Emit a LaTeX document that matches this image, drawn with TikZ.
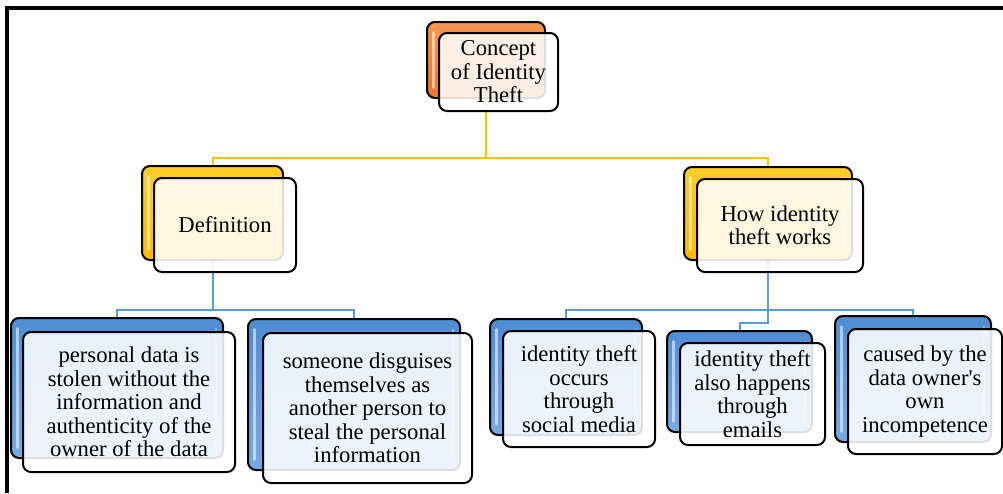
\documentclass[tikz,border=0pt]{standalone}
\usepackage{fontspec}
\setmainfont{Liberation Serif}[Ligatures=TeXOff]
\definecolor{orgT}{RGB}{246,150,80}
\definecolor{orgB}{RGB}{232,118,42}
\definecolor{ylwT}{RGB}{255,205,40}
\definecolor{ylwB}{RGB}{252,186,0}
\definecolor{bluT}{RGB}{80,140,210}
\definecolor{bluB}{RGB}{120,170,225}
\definecolor{ylink}{RGB}{255,192,0}
\definecolor{blink}{RGB}{91,155,213}
\begin{document}
\begin{tikzpicture}[x=0.75pt,y=-0.75pt,
  sz/.style 2 args={minimum width=#1*0.75pt, minimum height=#2*0.75pt},
  backbox/.style={draw=black, line width=1.5pt, rounded corners=6pt, inner sep=0pt,
    path picture={\draw[white, opacity=0.55, line width=2.2pt, line cap=round]
      ([xshift=5pt,yshift=-8pt]path picture bounding box.north west) --
      ([xshift=5pt,yshift=8pt]path picture bounding box.south west);
      \draw[white, opacity=0.35, line width=1.5pt, line cap=round]
      ([xshift=-5pt,yshift=-8pt]path picture bounding box.north east) --
      ([xshift=-5pt,yshift=8pt]path picture bounding box.south east);}},
  orgbox/.style={backbox, top color=orgT, bottom color=orgB},
  ylwbox/.style={backbox, top color=ylwT, bottom color=ylwB},
  blubox/.style={backbox, top color=bluT, bottom color=bluB},
  frontbox/.style={draw=black, line width=1.5pt, rounded corners=6pt, fill=white,
    fill opacity=0.87, text opacity=1, inner sep=0pt, align=center,
    font=\fontsize{17}{17.6}\selectfont},
  ylinkline/.style={draw=ylink, line width=1.5pt},
  blinkline/.style={draw=blink, line width=1.5pt},
  frame/.style={draw=black, line width=2.4pt}
]
\useasboundingbox (0,0) rectangle (1003,493);
% frame
\draw[frame] (7,493) -- (7,8) -- (1003,8);

% back boxes
\node[orgbox, sz={118}{76}] (topb) at (486,60) {};
\node[ylwbox, sz={141}{94}] (defb) at (212.5,213) {};
\node[ylwbox, sz={168}{93}] (howb) at (768,213.5) {};
\node[blubox, sz={212}{140}] (l1b) at (117,388) {};
\node[blubox, sz={212}{151}] (l2b) at (354,394.5) {};
\node[blubox, sz={152}{116}] (l3b) at (566,377) {};
\node[blubox, sz={145}{101}] (l4b) at (739.5,381.5) {};
\node[blubox, sz={156}{126}] (l5b) at (913,379) {};

% connectors
\draw[ylinkline] (topb.south) -- ++(0,59) coordinate (ja);
\draw[ylinkline] (defb.north) |- (ja) -| (howb.north);
\draw[blinkline] (defb.south) -- ++(0,49) coordinate (jb);
\draw[blinkline] (l1b.north) |- (jb) -| (l2b.north);
\draw[blinkline] (howb.south) -- ++(0,49) coordinate (jc);
\draw[blinkline] (l3b.north) |- (jc) -| (l5b.north);
\draw[blinkline] (jc) -- ++(0,13) -| (l4b.north);

% front boxes
\node[frontbox, sz={119}{78}] (topf) at (498.5,72) {Concept\\of Identity\\Theft};
\node[frontbox, sz={142}{94}] (deff) at (225,225) {Definition};
\node[frontbox, sz={166}{93}] (howf) at (780,225.5) {How identity\\theft works};
\node[frontbox, sz={212}{140}] (l1f) at (129,402) {personal data is\\stolen without the\\information and\\authenticity of the\\owner of the data};
\node[frontbox, sz={209}{150}] (l2f) at (367.5,408) {someone disguises\\themselves as\\another person to\\steal the personal\\information};
\node[frontbox, sz={152}{116}] (l3f) at (579,389) {identity theft\\occurs\\through\\social media};
\node[frontbox, sz={145}{102}] (l4f) at (752.5,394) {identity theft\\also happens\\through\\emails};
\node[frontbox, sz={154}{125}] (l5f) at (925,391.5) {caused by the\\data owner's\\own\\incompetence};
\end{tikzpicture}
\end{document}
